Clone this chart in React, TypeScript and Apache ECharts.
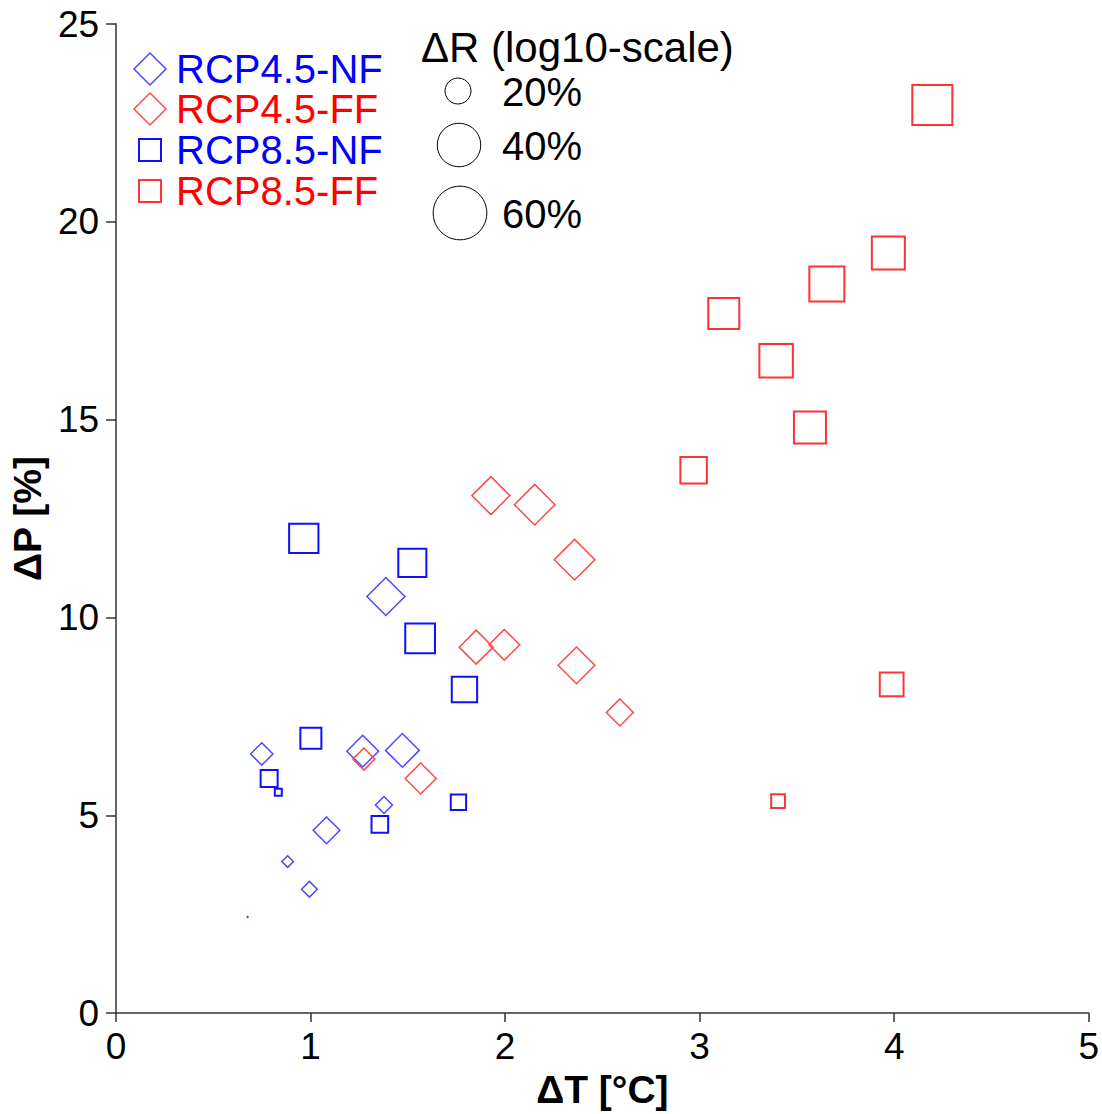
import React, { useEffect, useRef } from "react";
import * as echarts from "echarts";

// ΔT [°C], ΔP [%], ΔR [%]
const nf45T = [1.387, 0.749, 1.268, 1.472, 1.377, 1.082, 0.882, 0.994, 0.676];
const nf45P = [10.53, 6.55, 6.62, 6.64, 5.26, 4.62, 3.83, 3.13, 2.43];
const nf45R = [32.2, 17.3, 25.1, 27.2, 14.0, 20.6, 11.3, 13.3, 7.3];

const ff45T = [1.927, 2.152, 2.357, 1.851, 1.996, 2.367, 2.59, 1.566, 1.274];
const ff45P = [13.08, 12.85, 11.46, 9.25, 9.31, 8.79, 7.6, 5.93, 6.42];
const ff45R = [32.2, 35.8, 35.8, 27.5, 24.1, 30.6, 20.8, 24.4, 17.1];

const nf85T = [0.965, 1.523, 1.563, 1.791, 1.0015, 0.787, 0.834, 1.76, 1.356];
const nf85P = [12.0, 11.38, 9.47, 8.18, 6.95, 5.93, 5.58, 5.33, 4.77];
const nf85R = [22.8, 21.7, 23.2, 19.5, 16.4, 14.0, 9.4, 13.1, 13.8];

const ff85T = [4.196, 3.97, 3.654, 3.124, 3.393, 3.567, 2.969, 3.987, 3.403];
const ff85P = [22.95, 19.21, 18.43, 17.68, 16.49, 14.8, 13.72, 8.31, 5.36];
const ff85R = [34.9, 26.4, 28.6, 24.4, 26.9, 25.4, 20.4, 18.3, 12.3];

const seriesNames = ["RCP4.5-NF", "RCP4.5-FF", "RCP8.5-NF", "RCP8.5-FF"];
const sizeLegendValues = [20, 40, 60];
const xTicks = [0, 1, 2, 3, 4, 5];
const yTicks = [0, 5, 10, 15, 20, 25];

const FONT = "'Liberation Sans', Arial, sans-serif";
const BLUE_D = "#4a4aff";
const BLUE_S = "#1010ff";
const RED_D = "#ff4a4a";
const RED_S = "#ff3333";

// log10 scale for marker size
const sizeOf = (r: number) => Math.max(1, 26 + 58 * Math.log10(r / 20));

const build = (t: number[], p: number[], r: number[]) =>
  t.map((v, i) => [v, p[i], r[i]]);

export default function App() {
  const ref = useRef<HTMLDivElement>(null);
  useEffect(() => {
    if (!ref.current) return;
    const chart = echarts.init(ref.current, undefined, { renderer: "svg" });
    const mk = (
      name: string,
      data: number[][],
      symbol: string,
      color: string,
      width: number
    ) => ({
      name,
      type: "scatter",
      data,
      symbol,
      symbolSize: (v: number[]) => sizeOf(v[2]),
      itemStyle: { color: "rgba(0,0,0,0)", borderColor: color, borderWidth: width, opacity: 1 },
      emphasis: { disabled: true },
    });

    const legendRows = [
      { name: seriesNames[0], sym: "diamond", color: BLUE_D, text: "#0000ff", y: 69 },
      { name: seriesNames[1], sym: "diamond", color: RED_D, text: "#ff0000", y: 109 },
      { name: seriesNames[2], sym: "square", color: BLUE_S, text: "#0000ff", y: 150 },
      { name: seriesNames[3], sym: "square", color: RED_S, text: "#ff0000", y: 191 },
    ];
    const graphics: any[] = [];
    legendRows.forEach((row) => {
      if (row.sym === "diamond") {
        graphics.push({
          type: "polygon",
          shape: {
            points: [
              [150, row.y - 16],
              [166, row.y],
              [150, row.y + 16],
              [134, row.y],
            ],
          },
          style: { fill: "none", stroke: row.color, lineWidth: 1.5 },
        });
      } else {
        graphics.push({
          type: "rect",
          shape: { x: 139, y: row.y - 11, width: 22, height: 22 },
          style: { fill: "none", stroke: row.color, lineWidth: 2 },
        });
      }
      graphics.push({
        type: "text",
        x: 176,
        y: row.y,
        style: {
          text: row.name,
          fill: row.text,
          font: `40px ${FONT}`,
          lineHeight: 34,
          textVerticalAlign: "middle",
          textAlign: "left",
        },
      });
    });
    graphics.push({
      type: "text",
      x: 421,
      y: 47,
      style: {
        text: "ΔR (log10-scale)",
        fill: "#000",
        font: `42px ${FONT}`,
        lineHeight: 38,
        textVerticalAlign: "middle",
      },
    });
    const circleY = [91, 145, 213];
    const circleX = [458, 459, 460];
    sizeLegendValues.forEach((v, i) => {
      graphics.push({
        type: "circle",
        shape: { cx: circleX[i], cy: circleY[i], r: sizeOf(v) / 2 },
        style: { fill: "none", stroke: "#000", lineWidth: 1 },
      });
      graphics.push({
        type: "text",
        x: 502,
        y: circleY[i] + 1,
        style: {
          text: `${v}%`,
          fill: "#000",
          font: `40px ${FONT}`,
          lineHeight: 36,
          textVerticalAlign: "middle",
        },
      });
    });

    chart.setOption({
      animation: false,
      backgroundColor: "#fff",
      grid: { left: 113, right: 12, top: 24, bottom: 99, containLabel: false },
      xAxis: {
        type: "value",
        min: xTicks[0],
        max: xTicks[xTicks.length - 1],
        interval: 1,
        name: "ΔT [°C]",
        nameLocation: "middle",
        nameGap: 54,
        nameTextStyle: { fontFamily: FONT, fontSize: 39, fontWeight: "bold", color: "#000" },
        axisLine: { show: true, onZero: false, lineStyle: { color: "#333", width: 1.5 } },
        axisTick: { show: true, length: 9, lineStyle: { color: "#333", width: 1.5 } },
        axisLabel: { fontFamily: FONT, fontSize: 37, color: "#000", margin: 15 },
        splitLine: { show: false },
      },
      yAxis: {
        type: "value",
        min: yTicks[0],
        max: yTicks[yTicks.length - 1],
        interval: 5,
        name: "ΔP [%]",
        nameLocation: "middle",
        nameGap: 52,
        nameTextStyle: { fontFamily: FONT, fontSize: 39, fontWeight: "bold", color: "#000" },
        axisLine: { show: true, onZero: false, lineStyle: { color: "#333", width: 1.5 } },
        axisTick: { show: true, length: 10, lineStyle: { color: "#333", width: 1.5 } },
        axisLabel: { fontFamily: FONT, fontSize: 37, color: "#000", margin: 17 },
        splitLine: { show: false },
      },
      series: [
        mk(seriesNames[0], build(nf45T, nf45P, nf45R), "diamond", BLUE_D, 1.5),
        mk(seriesNames[2], build(nf85T, nf85P, nf85R), "rect", BLUE_S, 2),
        mk(seriesNames[1], build(ff45T, ff45P, ff45R), "diamond", RED_D, 1.5),
        mk(seriesNames[3], build(ff85T, ff85P, ff85R), "rect", RED_S, 2),
      ],
      graphic: graphics,
    });
    return () => chart.dispose();
  }, []);
  return (
    <div
      ref={ref}
      style={{ position: "fixed", left: 0, top: 0, width: 1102, height: 1114 }}
    />
  );
}
